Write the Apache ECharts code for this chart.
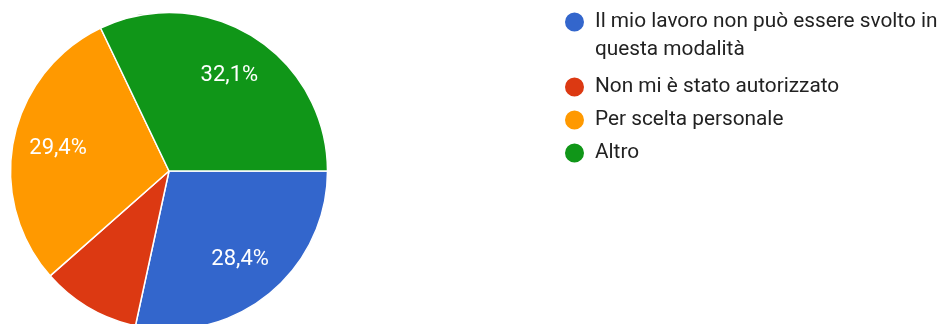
<!DOCTYPE html>
<html>
<head>
<meta charset="utf-8">
<script src="https://cdn.jsdelivr.net/npm/echarts@6/dist/echarts.min.js"></script>
<style>html,body{margin:0;padding:0;background:#fff}#c{width:947px;height:324px}</style>
</head>
<body>
<div id="c"></div>
<script>
var categories = ["Il mio lavoro non può essere svolto in\nquesta modalità", "Non mi è stato autorizzato", "Per scelta personale", "Altro"];
var values = [28.4, 10.1, 29.4, 32.1];
var colors = ["#3366cc", "#dc3912", "#ff9900", "#109618"];
var showLabel = [true, false, true, true];

var FS = 20.8;
var FONT = 'Roboto';
var TXT = '#222222';
var chart = echarts.init(document.getElementById('c'), null, {renderer: 'canvas'});
var mainData = categories.map(function (n, i) { return {name: n, value: values[i], itemStyle: {color: colors[i]}}; });
var labelData = categories.map(function (n, i) { return {name: n, value: values[i], label: {show: showLabel[i]}}; });
function rs(lh) { return {fontFamily: FONT, fontSize: FS, color: TXT, lineHeight: lh}; }
chart.setOption({
  animation: false,
  backgroundColor: '#ffffff',
  legend: {
    orient: 'vertical',
    left: 563,
    top: -23,
    padding: 0,
    itemWidth: 21,
    itemHeight: 21,
    itemGap: 7,
    icon: 'circle',
    data: categories,
    formatter: function (name) {
      var parts = name.split('\n');
      if (parts.length > 1) {
        return '{e| }\n{a|' + parts[0] + '}\n{b|' + parts[1] + '}';
      }
      return name;
    },
    textStyle: {
      fontFamily: FONT, fontSize: FS, color: TXT, lineHeight: 26, padding: [0, 0, 0, 5],
      rich: {e: rs(34), a: rs(22), b: rs(34)}
    }
  },
  series: [
    {
      type: 'pie',
      center: [169, 171],
      radius: [0, 158.5],
      startAngle: 0,
      clockwise: true,
      silent: true,
      label: {show: false},
      labelLine: {show: false},
      itemStyle: {borderColor: '#ffffff', borderWidth: 1.5},
      data: mainData
    },
    {
      type: 'pie',
      center: [169, 171],
      radius: [62, 158.5],
      startAngle: 0,
      clockwise: true,
      silent: true,
      legendHoverLink: false,
      itemStyle: {color: 'transparent', borderWidth: 0},
      label: {
        show: true,
        position: 'inside',
        color: '#ffffff',
        fontFamily: FONT,
        fontSize: 22,
        textBorderWidth: 0,
        formatter: function (p) { return p.value.toFixed(1).replace('.', ',') + '%'; }
      },
      labelLine: {show: false},
      data: labelData
    }
  ]
});
</script>
</body>
</html>
